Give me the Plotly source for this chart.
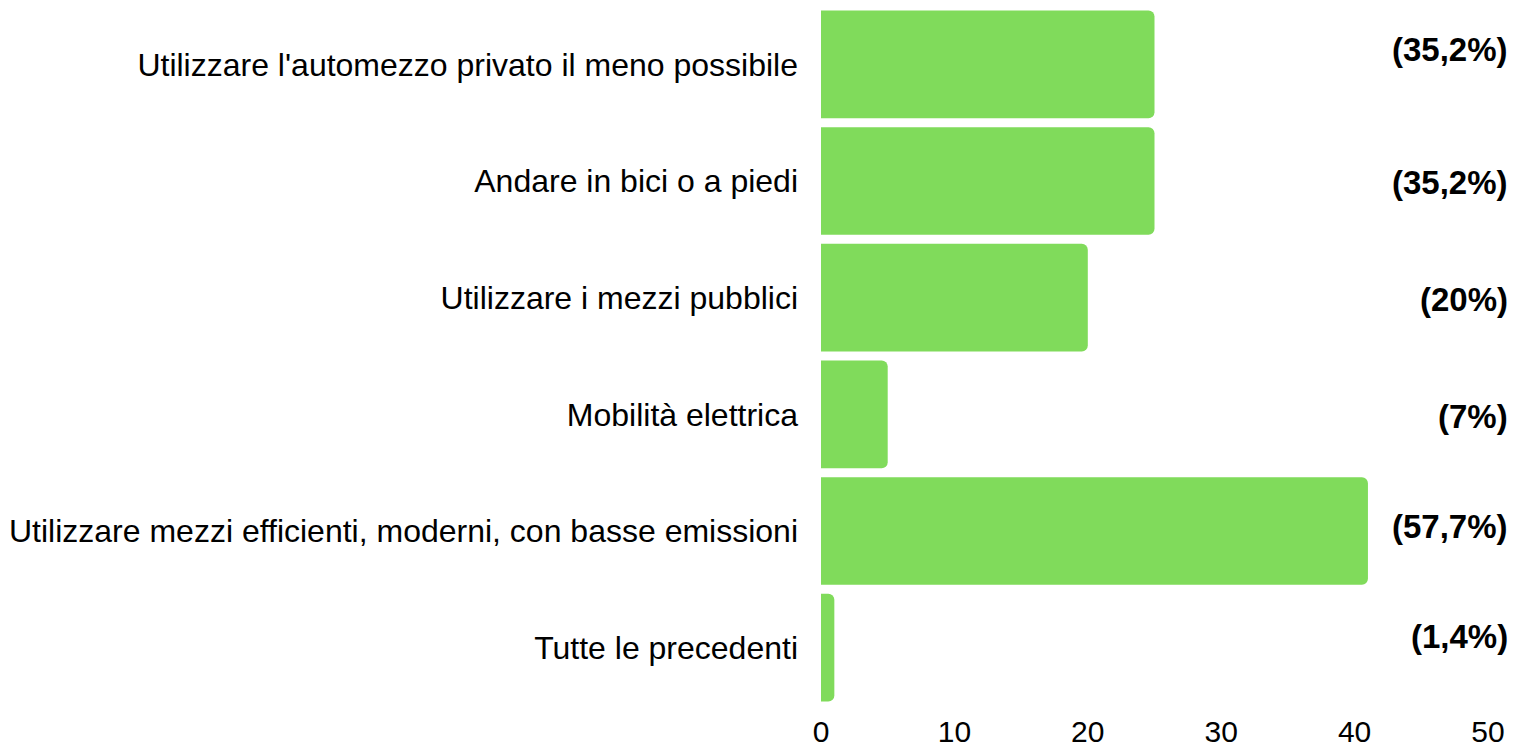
import plotly.graph_objects as go

# categories top to bottom, counts and the percent labels shown at the right
categories = [
    "Utilizzare l'automezzo privato il meno possibile",
    "Andare in bici o a piedi",
    "Utilizzare i mezzi pubblici",
    "Mobilità elettrica",
    "Utilizzare mezzi efficienti, moderni, con basse emissioni",
    "Tutte le precedenti",
]
counts = [25, 25, 20, 5, 41, 1]
pct_labels = ["(35,2%)", "(35,2%)", "(20%)", "(7%)", "(57,7%)", "(1,4%)"]
x_ticks = [0, 10, 20, 30, 40, 50]

fig = go.Figure()

fig.add_trace(go.Bar(
    x=counts,
    y=categories,
    orientation='h',
    marker=dict(color='#80db5b', line=dict(width=0)),
    hoverinfo='x+y',
))

# labels sit a little off the bar centre in the original
label_shift = [15, -1, -2, -2, 5, 11]
annotations = []
for cat, txt, dy in zip(categories, pct_labels, label_shift):
    annotations.append(dict(
        x=1, xref='paper', xanchor='right', xshift=22,
        y=cat, yref='y', yanchor='middle', yshift=dy,
        text=f"<b>{txt}</b>",
        showarrow=False,
        font=dict(family='Liberation Sans, Arial, sans-serif', size=33, color='#000000'),
    ))

fig.update_layout(
    width=1528,
    height=747,
    margin=dict(l=821, r=40, t=6, b=41),
    paper_bgcolor='white',
    plot_bgcolor='white',
    showlegend=False,
    bargap=0.077,
    barcornerradius=6,
    annotations=annotations,
    font=dict(family='Liberation Sans, Arial, sans-serif', color='#000000'),
)

fig.update_xaxes(
    range=[0, 50],
    tickvals=x_ticks,
    showgrid=False,
    zeroline=False,
    showline=False,
    tickfont=dict(size=30, color='#000000'),
    ticklabelstandoff=5,
    automargin=False,
)

fig.update_yaxes(
    categoryorder='array',
    categoryarray=categories[::-1],
    showgrid=False,
    showline=False,
    tickfont=dict(size=32, color='#000000'),
    ticklabelstandoff=22,
    automargin=False,
)

# drop the browser's default body margin so the figure sits at the page corner
fig.write_html(
    "out.html",
    config={'displayModeBar': False},
    post_script="document.body.style.margin='0';",
)
